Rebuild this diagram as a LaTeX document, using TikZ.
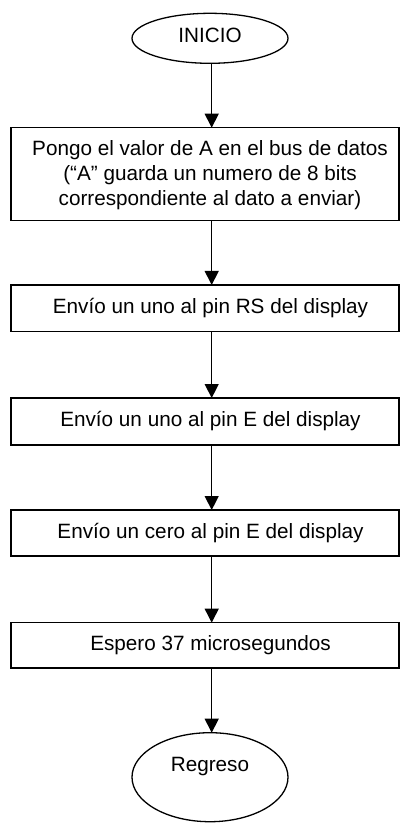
\documentclass[tikz,border=0pt]{standalone}
\usepackage{fontspec}
\setmainfont{Liberation Sans}
\usetikzlibrary{shapes.geometric,arrows.meta}
\begin{document}
\begin{tikzpicture}[x=1pt,y=-1pt,
  every node/.style={font=\fontsize{20.7}{24.8}\selectfont, inner sep=0pt, outer sep=0pt},
  stepbox/.style={draw, line width=1.3pt, minimum width=388pt},
  term/.style={draw, ellipse, line width=1.3pt, minimum width=156pt},
  arr/.style={line width=1.3pt, -{Triangle[length=14pt,width=14pt]}}]
\useasboundingbox (0,0) rectangle (400,823);
\node[term, minimum height=50pt, label={[yshift=3pt]center:INICIO}] (inicio) at (210,38.3) {};
\node[stepbox, minimum height=93pt, label={[xshift=5pt,yshift=-1pt,align=center]center:Pongo el valor de A en el bus de datos\\(“A” guarda un numero de 8 bits\\correspondiente al dato a enviar)}] (b1) at (205,174.2) {};
\node[stepbox, minimum height=46.7pt, label={[xshift=5.5pt]center:Envío un uno al pin RS del display}] (b2) at (205,308.3) {};
\node[stepbox, minimum height=47pt, label={[xshift=5.5pt]center:Envío un uno al pin E del display}] (b3) at (205,421.5) {};
\node[stepbox, minimum height=46pt, label={[xshift=5.5pt]center:Envío un cero al pin E del display}] (b4) at (205,533) {};
\node[stepbox, minimum height=45.3pt, label={[xshift=5.5pt]center:Espero 37 microsegundos}] (b5) at (205,645.3) {};
\node[term, minimum height=89pt, label={[yshift=11pt]center:Regreso}] (fin) at (210,777.2) {};
\coordinate (ax) at (211.7,0);
\draw[arr] (inicio.south -| ax) -- (b1.north -| ax);
\draw[arr] (b1.south -| ax) -- (b2.north -| ax);
\draw[arr] (b2.south -| ax) -- (b3.north -| ax);
\draw[arr] (b3.south -| ax) -- (b4.north -| ax);
\draw[arr] (b4.south -| ax) -- (b5.north -| ax);
\draw[arr] (b5.south -| ax) -- (fin.north -| ax);
\end{tikzpicture}
\end{document}
